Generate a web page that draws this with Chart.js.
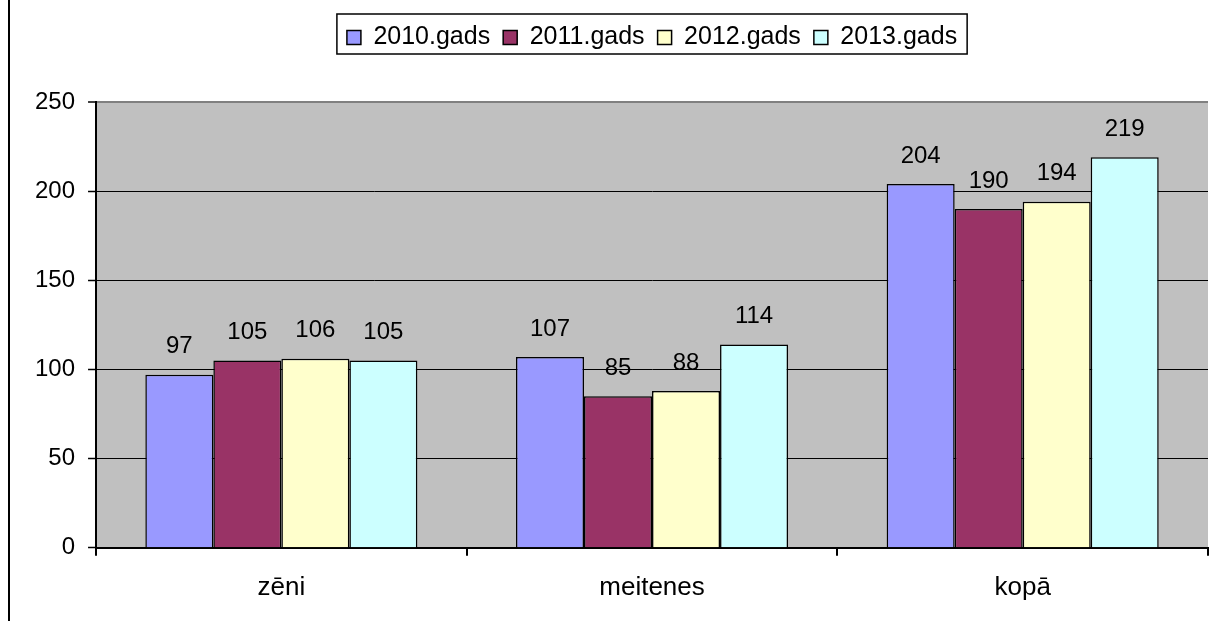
<!DOCTYPE html>
<html>
<head>
<meta charset="utf-8">
<script src="https://cdn.jsdelivr.net/npm/chart.js@4.4.1/dist/chart.umd.min.js"></script>
<style>
  html, body { margin: 0; padding: 0; background: #fff; }
  #wrap { width: 1210px; height: 621px; position: relative; }
</style>
</head>
<body>
<div id="wrap"><canvas id="c" width="1210" height="621"></canvas></div>
<script>
const categories = ['zēni', 'meitenes', 'kopā'];
const seriesNames = ['2010.gads', '2011.gads', '2012.gads', '2013.gads'];
const values2010 = [97, 107, 204];
const values2011 = [105, 85, 190];
const values2012 = [106, 88, 194];
const values2013 = [105, 114, 219];
const yTicks = [0, 50, 100, 150, 200, 250];
const seriesColors = ['#9999FF', '#993366', '#FFFFCC', '#CCFFFF'];

const FONT = "'Liberation Sans', Arial, sans-serif";

const framePlugin = {
  id: 'frame',
  afterInit(chart) {
    const lg = chart.legend;
    if (lg && !lg._wrapped) {
      const orig = lg.fit;
      lg.fit = function () { orig.call(this); this.height = 90; };
      lg._wrapped = true;
    }
  },
  beforeDraw(chart) {
    const { ctx, chartArea: a } = chart;
    ctx.save();
    ctx.fillStyle = '#C0C0C0';
    ctx.fillRect(a.left, a.top, a.right - a.left, a.bottom - a.top);
    ctx.restore();
    // recentre the legend over the plot area
    const lg = chart.legend;
    const w = lg.right - lg.left;
    const c = (a.left + a.right) / 2;
    lg.left = c - w / 2;
    lg.right = c + w / 2;
  },
  afterDraw(chart) {
    const { ctx } = chart;
    ctx.save();
    // outer frame line on the left
    ctx.strokeStyle = '#000';
    ctx.lineWidth = 2;
    ctx.beginPath();
    ctx.moveTo(9, 0);
    ctx.lineTo(9, chart.height);
    ctx.stroke();
    // legend border
    const lg = chart.legend;
    const pad = lg.options.labels.padding;
    const lw = lg.lineWidths[0];
    const start = (lg.left + lg.right + pad - lw) / 2;
    const end = start + lw - pad;
    ctx.lineWidth = 1.5;
    ctx.strokeRect(start - 10, 14, (end - start) + 20, 40);
    ctx.restore();
  }
};

const labelPlugin = {
  id: 'barLabels',
  afterDatasetsDraw(chart) {
    const { ctx } = chart;
    ctx.save();
    ctx.font = '24px ' + FONT;
    ctx.fillStyle = '#000';
    ctx.textAlign = 'center';
    ctx.textBaseline = 'middle';
    chart.data.datasets.forEach((ds, i) => {
      const meta = chart.getDatasetMeta(i);
      meta.data.forEach((bar, j) => {
        const p = bar.getProps(['x', 'y'], true);
        ctx.fillText(String(ds.data[j]), p.x, p.y - 28);
      });
    });
    ctx.restore();
  }
};

const allSeries = [values2010, values2011, values2012, values2013];

new Chart(document.getElementById('c'), {
  type: 'bar',
  data: {
    labels: categories,
    datasets: allSeries.map((vals, i) => ({
      label: seriesNames[i],
      data: vals,
      backgroundColor: seriesColors[i],
      borderColor: '#000',
      borderWidth: 1.5,
      categoryPercentage: 0.734,
      barPercentage: 1.0
    }))
  },
  options: {
    responsive: false,
    animation: false,
    devicePixelRatio: 1,
    layout: { padding: { left: 22, right: 2, top: 12, bottom: 2 } },
    plugins: {
      legend: {
        position: 'top',
        labels: {
          font: { family: FONT, size: 25 },
          color: '#000',
          boxWidth: 14,
          boxHeight: 14,
          padding: 13
        }
      },
      tooltip: { enabled: false }
    },
    scales: {
      x: {
        grid: {
          offset: true,
          drawOnChartArea: false,
          drawTicks: true,
          tickLength: 8,
          color: '#000',
          lineWidth: 2
        },
        border: { display: true, color: '#000', width: 2 },
        ticks: {
          font: { family: FONT, size: 26 },
          color: '#000',
          padding: 16
        }
      },
      y: {
        min: 0,
        max: 250,
        afterBuildTicks(scale) { scale.ticks = yTicks.map(v => ({ value: v })); },
        grid: {
          color: c => (c.tick && c.tick.value === 250) ? '#808080' : '#000',
          lineWidth: c => (c.tick && c.tick.value === 250) ? 2 : 1,
          tickColor: '#000',
          tickWidth: 1.5,
          tickLength: 8,
          drawTicks: true
        },
        border: { display: true, color: '#000', width: 2 },
        ticks: {
          font: { family: FONT, size: 24 },
          color: '#000',
          padding: 13
        }
      }
    }
  },
  plugins: [framePlugin, labelPlugin]
});
</script>
</body>
</html>
